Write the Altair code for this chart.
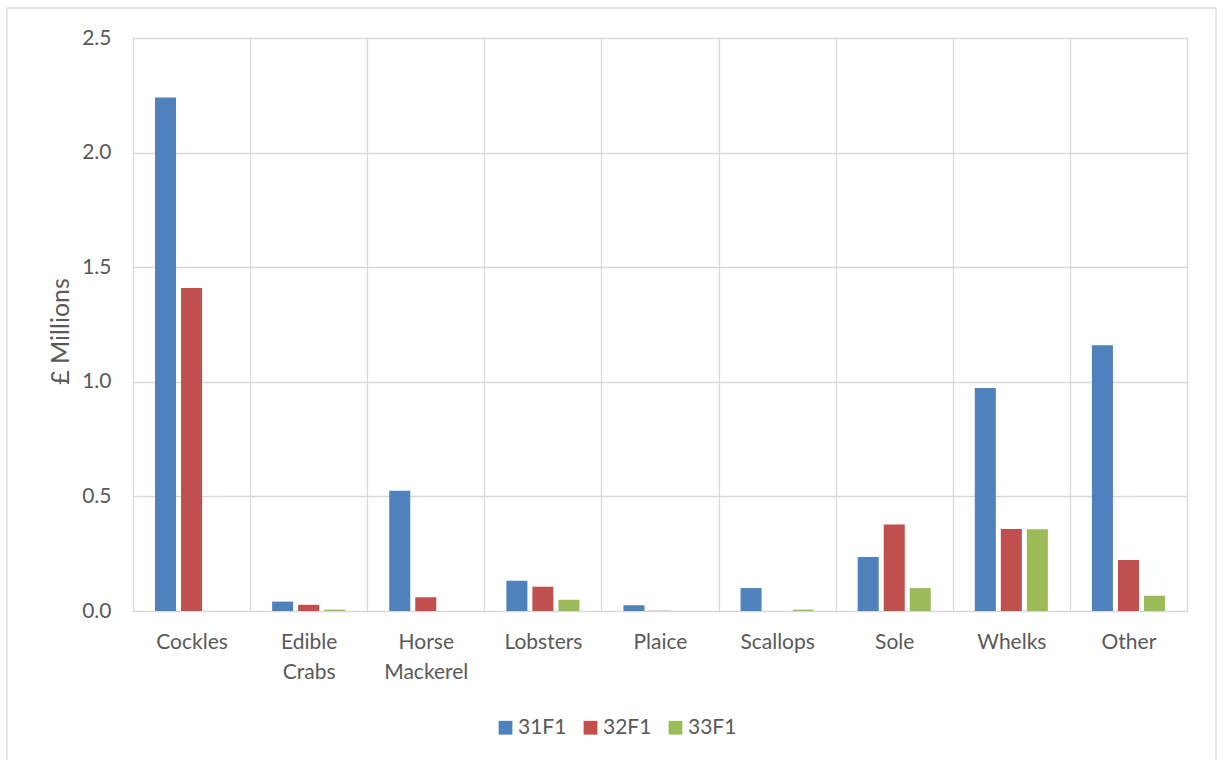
import altair as alt
import pandas as pd

categories = ["Cockles", "Edible Crabs", "Horse Mackerel", "Lobsters", "Plaice",
              "Scallops", "Sole", "Whelks", "Other"]
series_names = ["31F1", "32F1", "33F1"]
s31 = [2.240, 0.041, 0.525, 0.132, 0.025, 0.100, 0.236, 0.973, 1.160]
s32 = [1.409, 0.027, 0.060, 0.106, 0.001, 0.000, 0.377, 0.358, 0.223]
s33 = [0.000, 0.006, 0.000, 0.049, 0.000, 0.006, 0.100, 0.357, 0.067]
colors = ["#4f81bd", "#c0504d", "#9bbb59"]
y_ticks = [0.0, 0.5, 1.0, 1.5, 2.0, 2.5]

rows = []
for name, vals in zip(series_names, [s31, s32, s33]):
    for c, v in zip(categories, vals):
        rows.append({"category": c, "series": name, "value": v})
df = pd.DataFrame(rows)

FONT = "Lato"
GRID = "#d9d9d9"
TXT = "#595959"

bars = alt.Chart(df).mark_bar().encode(
    x=alt.X("category:N", sort=categories, title=None,
            scale=alt.Scale(paddingInner=0, paddingOuter=0),
            axis=alt.Axis(tickBand="extent", grid=True, gridColor=GRID, gridWidth=1.3,
                          ticks=False, domain=False, labelAngle=0,
                          labelExpr="split(datum.label, ' ')",
                          labelLineHeight=30, labelPadding=20,
                          labelFont=FONT, labelFontSize=21, labelColor=TXT,
                          labelBaseline="top")),
    xOffset=alt.XOffset("series:N", sort=series_names,
                        scale=alt.Scale(paddingInner=0.192, paddingOuter=0.846)),
    y=alt.Y("value:Q", title="£ Millions",
            scale=alt.Scale(domain=[0, 2.5], nice=False),
            axis=alt.Axis(values=y_ticks, format=".1f", grid=True, gridColor=GRID,
                          gridWidth=1.3, ticks=False, domain=False, labelPadding=22,
                          labelFont=FONT, labelFontSize=21, labelColor=TXT,
                          titleFont=FONT, titleFontSize=25, titleColor=TXT,
                          titleFontWeight="normal", titleX=-73, titleY=293,
                          titleAlign="center", titleBaseline="middle", titleAngle=270)),
    color=alt.Color("series:N", sort=series_names,
                    scale=alt.Scale(domain=series_names, range=colors),
                    legend=alt.Legend(title=None, orient="none", direction="horizontal",
                                      legendX=362, legendY=679, symbolType="square",
                                      symbolSize=190, symbolStrokeWidth=0,
                                      labelFont=FONT, labelFontSize=21, labelColor=TXT,
                                      labelOffset=2, columnPadding=13)),
)

frame = alt.Chart(pd.DataFrame({"a": [0]})).mark_rect(
    fill=None, stroke=GRID, strokeWidth=1.3
).encode(
    x=alt.value(-126), x2=alt.value(1083), y=alt.value(-30), y2=alt.value(740)
)

chart = alt.layer(frame, bars).properties(
    width=1054, height=573,
    padding={"left": 133, "top": 38, "right": 37, "bottom": 149},
    autosize=alt.AutoSizeParams(type="none"),
).configure_view(stroke=GRID, strokeWidth=1.3).configure(background="white")

chart.save("out.html", embed_options={"renderer": "svg", "actions": False})
